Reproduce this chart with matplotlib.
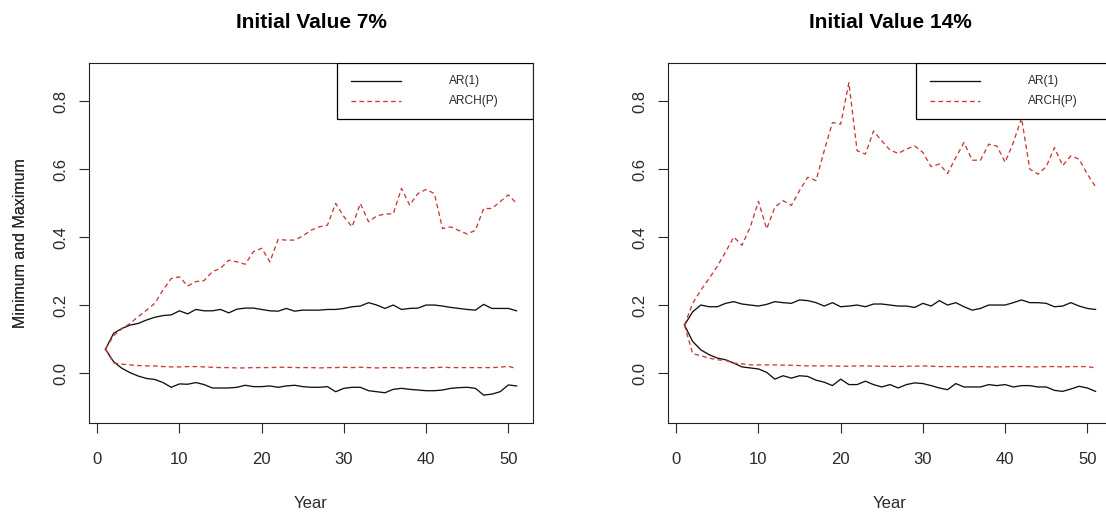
import numpy as np
import matplotlib
matplotlib.use('Agg')
import matplotlib.pyplot as plt
from matplotlib.patches import Rectangle

plt.rcParams['font.family'] = ['Liberation Sans', 'DejaVu Sans']

years = np.arange(1, 52)

# starting value 7%
left_ar_max = [0.07, 0.117, 0.131, 0.141, 0.146, 0.156, 0.164, 0.169, 0.171, 0.183,
               0.174, 0.187, 0.183, 0.183, 0.187, 0.177, 0.188, 0.191, 0.191, 0.187,
               0.183, 0.182, 0.19, 0.182, 0.185, 0.185, 0.185, 0.187, 0.187, 0.19,
               0.195, 0.197, 0.207, 0.2, 0.19, 0.2, 0.187, 0.19, 0.191, 0.2,
               0.2, 0.197, 0.193, 0.19, 0.187, 0.185, 0.202, 0.19, 0.19, 0.19,
               0.183]
left_ar_min = [0.07, 0.033, 0.014, 0.001, -0.009, -0.016, -0.019, -0.028, -0.042, -0.032,
               -0.033, -0.028, -0.034, -0.044, -0.044, -0.044, -0.042, -0.036, -0.04, -0.04,
               -0.038, -0.042, -0.038, -0.036, -0.04, -0.042, -0.042, -0.04, -0.055, -0.045,
               -0.042, -0.042, -0.052, -0.055, -0.058, -0.048, -0.045, -0.048, -0.05, -0.052,
               -0.052, -0.05, -0.045, -0.043, -0.042, -0.045, -0.065, -0.062, -0.055, -0.035,
               -0.038]
left_arch_max = [0.07, 0.11, 0.13, 0.146, 0.166, 0.185, 0.205, 0.244, 0.278, 0.283,
                 0.256, 0.269, 0.272, 0.298, 0.308, 0.332, 0.327, 0.32, 0.357, 0.367,
                 0.327, 0.393, 0.391, 0.391, 0.403, 0.42, 0.43, 0.435, 0.499, 0.46,
                 0.43, 0.499, 0.445, 0.462, 0.468, 0.468, 0.543, 0.494, 0.528, 0.54,
                 0.528, 0.425, 0.43, 0.419, 0.409, 0.42, 0.484, 0.484, 0.504, 0.524,
                 0.499]
left_arch_min = [0.07, 0.03, 0.026, 0.024, 0.022, 0.021, 0.021, 0.019, 0.018, 0.018,
                 0.019, 0.019, 0.018, 0.017, 0.016, 0.016, 0.015, 0.015, 0.016, 0.016,
                 0.016, 0.017, 0.017, 0.016, 0.016, 0.016, 0.015, 0.016, 0.016, 0.017,
                 0.016, 0.017, 0.016, 0.015, 0.016, 0.016, 0.015, 0.016, 0.016, 0.015,
                 0.016, 0.017, 0.016, 0.016, 0.016, 0.016, 0.016, 0.016, 0.017, 0.020,
                 0.013]

# starting value 14%
right_ar_max = [0.141, 0.18, 0.2, 0.195, 0.195, 0.205, 0.21, 0.203, 0.2, 0.197,
                0.202, 0.21, 0.207, 0.205, 0.215, 0.213, 0.207, 0.197, 0.207, 0.195,
                0.197, 0.2, 0.195, 0.203, 0.203, 0.2, 0.197, 0.197, 0.193, 0.205,
                0.197, 0.213, 0.2, 0.207, 0.195, 0.185, 0.19, 0.2, 0.2, 0.2,
                0.207, 0.215, 0.207, 0.207, 0.205, 0.195, 0.197, 0.207, 0.197, 0.19,
                0.187]
right_ar_min = [0.141, 0.093, 0.068, 0.054, 0.044, 0.039, 0.029, 0.018, 0.015, 0.012,
                0.002, -0.018, -0.008, -0.015, -0.008, -0.01, -0.021, -0.027, -0.037, -0.018,
                -0.034, -0.034, -0.024, -0.034, -0.041, -0.034, -0.044, -0.034, -0.029, -0.031,
                -0.037, -0.044, -0.049, -0.031, -0.041, -0.041, -0.041, -0.034, -0.037, -0.034,
                -0.041, -0.037, -0.037, -0.041, -0.041, -0.051, -0.054, -0.047, -0.039, -0.044,
                -0.054]
right_arch_max = [0.141, 0.205, 0.244, 0.278, 0.314, 0.356, 0.4, 0.376, 0.429, 0.505,
                  0.424, 0.488, 0.507, 0.493, 0.537, 0.576, 0.566, 0.654, 0.737, 0.732,
                  0.854, 0.654, 0.644, 0.712, 0.683, 0.656, 0.646, 0.659, 0.668, 0.649,
                  0.607, 0.615, 0.587, 0.634, 0.678, 0.626, 0.626, 0.673, 0.668, 0.62,
                  0.678, 0.75, 0.6, 0.585, 0.607, 0.663, 0.61, 0.639, 0.629, 0.585,
                  0.548]
right_arch_min = [0.141, 0.057, 0.051, 0.044, 0.039, 0.037, 0.029, 0.027, 0.024, 0.024,
                  0.024, 0.024, 0.023, 0.023, 0.022, 0.021, 0.021, 0.021, 0.021, 0.020,
                  0.020, 0.021, 0.021, 0.020, 0.020, 0.020, 0.019, 0.020, 0.020, 0.021,
                  0.020, 0.019, 0.019, 0.019, 0.018, 0.019, 0.019, 0.018, 0.018, 0.019,
                  0.019, 0.019, 0.018, 0.018, 0.019, 0.019, 0.018, 0.019, 0.019, 0.019,
                  0.015]

titles = ['Initial Value 7%', 'Initial Value 14%']
legend_labels = ['AR(1)', 'ARCH(P)']
ar_col = '#111111'
arch_col = '#c83a3a'
dash = (3.5, 2.5)

W, H = 1106, 513
fig = plt.figure(figsize=(W / 100, H / 100), dpi=100)

# axes boxes in pixels: left, top, right, bottom
boxes = [(89, 63, 533, 423), (668, 63, 1112, 423)]
panels = [
    (left_ar_max, left_ar_min, left_arch_max, left_arch_min),
    (right_ar_max, right_ar_min, right_arch_max, right_arch_min),
]

for (l, t, r, b), series, title in zip(boxes, panels, titles):
    ax = fig.add_axes([l / W, (H - b) / H, (r - l) / W, (b - t) / H])
    ar_hi, ar_lo, arch_hi, arch_lo = series
    ax.plot(years, ar_hi, color=ar_col, lw=0.95)
    ax.plot(years, ar_lo, color=ar_col, lw=0.95)
    ax.plot(years, arch_hi, color=arch_col, lw=0.95, dashes=dash)
    ax.plot(years, arch_lo, color=arch_col, lw=0.95, dashes=dash)

    ax.set_xlim(-1, 53)
    ax.set_ylim(-0.147, 0.912)
    ax.set_xticks([0, 10, 20, 30, 40, 50])
    ax.set_yticks([0.0, 0.2, 0.4, 0.6, 0.8])
    ax.set_yticklabels(['0.0', '0.2', '0.4', '0.6', '0.8'], rotation=90, va='center')
    ax.tick_params(axis='both', direction='out', length=7.5, width=0.8, labelsize=12,
                   colors='#2a2a2a')
    ax.tick_params(axis='x', pad=13.5)
    ax.tick_params(axis='y', pad=7)
    for sp in ax.spines.values():
        sp.set_linewidth(0.8)
        sp.set_color('#222222')

    ax.set_title(title, fontsize=15, fontweight='bold', y=1.097, pad=0)
    ax.set_xlabel('Year', fontsize=12, color='#2a2a2a')
    ax.xaxis.set_label_coords(0.5, -0.203)
    ax.set_ylabel('Minimum and Maximum', fontsize=11.5, color='#2a2a2a')
    ax.yaxis.set_label_coords(-(l - 28) / (r - l), 0.5)

    # legend box in the top right corner
    ax.add_patch(Rectangle((0.5586, 0.8444), 0.4414, 0.1556, transform=ax.transAxes,
                           facecolor='white', edgecolor='black', lw=0.9, zorder=5))
    ax.plot([0.59, 0.7027], [0.95, 0.95], transform=ax.transAxes, color=ar_col,
            lw=0.95, zorder=6)
    ax.plot([0.59, 0.7027], [0.894, 0.894], transform=ax.transAxes, color=arch_col,
            lw=0.95, dashes=dash, zorder=6)
    for yy, lab in zip([0.95, 0.894], legend_labels):
        ax.text(0.8108, yy, lab, transform=ax.transAxes, fontsize=8.6, va='center',
                ha='left', color='#2a2a2a', zorder=6)

fig.savefig('out.png', dpi=100)
